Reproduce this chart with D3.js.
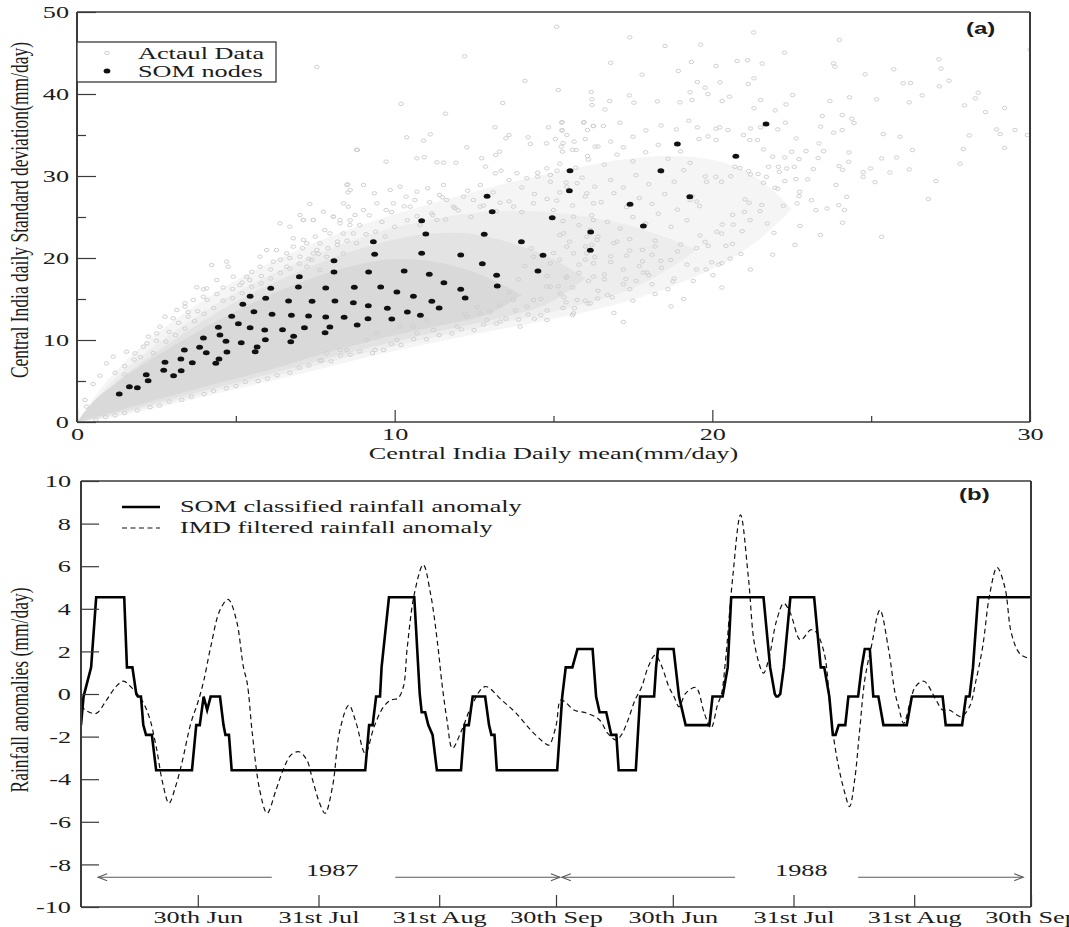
<!DOCTYPE html>
<html>
<head>
<meta charset="utf-8">
<script src="https://cdn.jsdelivr.net/npm/d3@7"></script>
<style>
  body { margin: 0; background: #fff; }
  svg { display: block; }
</style>
</head>
<body>
<svg id="fig" width="1069" height="927"></svg>
<script>
// ---------- Panel (a): daily mean vs. daily standard deviation ----------
// SOM node positions [mean, std] (mm/day)
const somNodes = [
  [1.33,3.41],[1.65,4.31],[1.90,4.19],[2.18,5.77],[2.24,5.04],[2.77,7.28],[2.73,6.30],[3.04,5.65],
  [3.27,7.68],[3.28,6.26],[3.38,8.78],[3.63,7.23],[3.86,9.11],[3.98,10.24],[4.07,8.45],[4.37,7.16],
  [4.47,7.68],[4.45,11.55],[4.50,10.61],[4.69,9.84],[4.72,8.54],[4.87,12.89],[5.08,11.99],[5.17,9.67],
  [5.22,14.35],[5.45,15.33],[5.57,13.45],[5.45,11.50],[5.61,8.57],[5.67,9.15],[5.94,15.08],[5.91,11.22],
  [5.93,10.04],[6.10,16.30],[6.14,13.13],[6.47,11.26],[6.66,14.76],[6.75,13.01],[6.73,9.79],[6.82,10.45],
  [7.00,17.72],[6.97,16.46],[7.16,11.50],[7.29,12.93],[7.40,14.72],[7.83,16.34],[7.83,12.80],[7.81,10.89],
  [7.96,11.59],[8.09,19.67],[8.09,18.29],[8.12,14.76],[8.41,12.77],[8.70,14.55],[8.73,16.43],[8.82,11.83],
  [9.33,21.99],[9.37,20.45],[9.18,18.29],[9.56,16.46],[9.16,12.60],[9.17,14.18],[9.77,13.87],[9.91,12.56],
  [10.07,15.85],[10.30,18.41],[10.40,13.41],[10.59,15.33],[10.81,13.01],[10.85,24.55],[10.98,22.93],[10.85,20.57],
  [11.09,18.01],[11.17,14.72],[11.40,13.90],[11.55,16.99],[12.08,20.37],[12.08,16.18],[12.22,15.12],[12.91,27.52],
  [13.07,25.65],[12.82,22.89],[12.76,19.31],[13.21,17.89],[13.23,16.59],[13.99,21.99],[14.51,18.41],[14.67,20.33],
  [14.96,24.91],[15.52,30.65],[15.50,28.21],[16.17,23.17],[16.16,20.94],
  [21.69,36.34],[18.90,33.90],[20.74,32.40],[18.38,30.65],[19.29,27.48],[17.41,26.55],[17.83,23.90]
];

// Density envelopes of the observed days (std bounds per mean value), outermost first
const band1Mean = [0, 1, 2, 3, 4, 5, 6, 7, 8, 9, 10, 12, 14, 16, 18, 20, 21.5, 22.5];
const band1Low  = [0, 0.4, 1.3, 2.2, 3.1, 4.0, 4.9, 5.8, 6.8, 7.8, 8.7, 10.3, 11.8, 13.3, 15.4, 18.4, 22.0, 26.0];
const band1High = [0, 5.6, 9.2, 12.3, 15.0, 17.3, 19.3, 21.1, 22.7, 24.1, 25.4, 27.6, 29.6, 31.3, 32.6, 32.4, 30.0, 26.0];

const band2Mean = [0, 1, 2, 3, 4, 5, 6, 7, 8, 9, 10, 12, 14, 16, 18, 19.5];
const band2Low  = [0, 0.6, 1.6, 2.5, 3.5, 4.4, 5.4, 6.3, 7.4, 8.4, 9.3, 11.0, 12.6, 14.3, 16.8, 21.0];
const band2High = [0, 4.8, 8.0, 10.9, 13.5, 15.8, 17.8, 19.6, 21.2, 22.6, 23.8, 25.4, 26.0, 25.2, 23.5, 21.0];

const band3Mean = [0, 1, 2, 3, 4, 5, 6, 7, 8, 9, 10, 11, 12, 13, 14, 15, 16];
const band3Low  = [0, 0.8, 1.8, 2.8, 3.8, 4.8, 5.8, 6.8, 7.9, 8.9, 9.8, 10.7, 11.6, 12.4, 13.3, 14.5, 17.5];
const band3High = [0, 4.2, 7.2, 9.9, 12.4, 14.7, 16.7, 18.4, 20.0, 21.3, 22.3, 23.0, 23.2, 22.6, 21.5, 20.0, 17.5];

const band4Mean = [0, 0.5, 1, 2, 3, 4, 5, 6, 7, 8, 9, 10, 11, 12, 13, 14];
const band4Low  = [0, 0.5, 1.0, 2.2, 3.2, 4.3, 5.3, 6.3, 7.4, 8.7, 9.6, 10.6, 11.4, 12.2, 13.0, 15.5];
const band4High = [0, 2.6, 4.1, 6.9, 9.2, 11.5, 13.6, 15.4, 17.0, 18.4, 19.4, 20.0, 19.8, 19.0, 17.6, 15.5];

// Individual observed days [mean, std]
const obsDays = [
  [7.33,26.58],[8.54,26.26],[8.75,25.24],[7.02,25.24],[7.12,24.63],[6.39,24.22],[6.70,23.82],[7.44,24.63],
  [8.07,25.04],[8.28,24.22],[8.59,24.02],[7.96,23.00],[8.38,23.00],[8.70,23.00],[6.81,22.40],[7.23,21.79],
  [7.65,21.79],[6.28,20.97],[6.60,20.57],[7.02,20.16],[7.44,20.57],[7.86,20.16],[8.38,20.57],[5.97,20.97],
  [5.76,18.94],[6.18,19.55],[6.60,18.94],[7.23,18.94],[7.65,18.53],[4.71,19.55],[4.76,18.94],[4.24,19.14],
  [5.34,17.72],[5.44,17.31],[5.13,16.70],[3.77,16.42],[3.98,16.18],[4.08,16.30],[3.40,14.47],[3.40,14.06],
  [3.66,14.88],[3.98,15.28],[2.77,12.84],[3.03,12.64],[3.50,12.84],[2.61,11.62],[2.51,10.81],[2.25,10.40],
  [1.83,8.37],[1.56,8.57],[1.14,7.96],[0.93,7.15],[0.72,5.65],[0.51,4.63],[0.25,2.68],[0.30,1.87],
  [2.09,9.18],[3.14,13.65],[4.40,17.31],[4.92,17.72],[5.76,20.16],[6.81,21.38],
  [13.16,35.94],[14.84,35.94],[15.26,36.50],[15.95,36.50],[16.26,36.10],[10.38,34.72],[11.12,35.08],[10.91,34.31],
  [8.83,33.17],[9.73,31.75],[10.70,32.16],[10.93,32.28],[11.33,31.67],[11.54,31.63],[11.93,31.63],[12.27,33.50],
  [12.74,32.16],[13.18,32.56],[13.30,32.97],[13.50,34.59],[13.60,35.00],[14.20,34.72],[14.27,33.90],[14.78,33.98],
  [15.06,34.51],[15.27,35.53],[15.42,35.00],[15.24,33.58],[15.28,32.97],[15.65,34.19],[15.71,33.17],[16.07,32.44],
  [16.31,33.58],[16.07,35.61],[12.86,31.14],[13.17,30.33],[13.35,30.65],[13.85,30.33],[14.16,29.72],[14.50,29.92],
  [14.79,30.94],[14.90,30.12],[15.11,30.65],[15.42,28.70],[15.74,29.11],[16.05,27.89],[16.26,26.67],[8.60,28.29],
  [8.52,28.98],[9.02,28.90],[9.36,27.89],[9.86,28.29],[10.17,28.70],[10.36,27.48],[10.64,27.07],[11.04,28.50],
  [11.41,27.68],[11.64,27.07],[12.17,27.48],[11.54,28.90],[8.39,26.67],[8.07,25.04],[8.28,24.63],[7.76,25.65],
  [7.44,24.63],[7.13,24.63],[7.13,22.20],[7.55,20.98],[7.39,19.76],[9.44,26.67],[9.02,25.85],[9.73,25.85],
  [9.96,26.67],[10.49,26.26],[10.70,28.09],[11.17,25.45],[11.33,24.63],[11.85,26.26],[12.48,27.07],[12.69,26.26],
  [13.32,26.75],[13.74,26.26],[14.37,26.67],[15.00,25.85],[15.63,25.04],[16.26,24.63],[16.16,23.42],[16.05,22.60],
  [16.37,22.20],[15.32,23.01],[15.42,21.38],[15.63,20.57],[16.05,20.57],[16.26,19.35],[16.26,17.73],[15.42,17.73],
  [14.90,19.35],[14.37,20.16],[14.90,16.50],[15.21,15.69],[15.74,14.88],[16.16,14.47],[15.63,13.25],[14.79,12.44],
  [14.16,14.07],[13.74,14.88],[13.32,12.24],[12.90,12.44],[13.95,11.63],[14.37,14.88],[14.79,16.50],[12.69,13.25],
  [12.27,12.85],[11.96,11.63],[11.22,11.22],[11.01,12.44],[10.70,10.81],[10.17,11.63],[9.44,10.81],[9.12,10.00],
  [8.28,8.78],[7.65,7.48],[7.86,8.37],[8.49,8.78],[10.07,10.00],[9.65,8.78],[9.38,8.78],[10.59,11.63],
  [18.51,45.86],[19.63,46.02],[22.27,45.04],[19.34,43.90],[20.12,43.42],[20.78,44.03],[21.11,44.11],[21.57,43.70],
  [17.79,42.36],[18.93,42.81],[24.81,42.40],[25.71,43.01],[27.13,44.23],[27.20,43.09],[23.81,43.74],[23.86,43.33],
  [26.01,41.30],[26.24,41.34],[27.45,41.62],[27.15,40.93],[28.37,40.16],[28.28,39.47],[26.61,39.83],[27.94,38.61],
  [26.20,38.98],[25.17,39.35],[24.32,39.59],[23.70,39.14],[22.53,39.87],[22.32,38.73],[21.98,38.00],[21.52,39.26],
  [21.31,38.25],[20.31,39.14],[20.54,39.67],[19.86,39.99],[19.77,40.77],[19.53,41.46],[19.30,40.20],[19.36,39.26],
  [20.24,41.42],[21.13,41.22],[21.31,41.91],[18.98,38.98],[18.27,39.10],[17.53,38.94],[17.39,39.83],[16.77,39.14],
  [16.19,40.24],[16.21,39.35],[16.21,38.65],[15.15,40.49],[16.62,38.12],[17.09,36.50],[15.96,36.58],[15.27,36.58],
  [15.27,35.60],[16.25,36.09],[16.57,36.09],[17.50,34.79],[17.91,35.56],[18.39,36.17],[18.87,35.68],[19.26,36.74],
  [19.53,35.93],[20.11,35.76],[20.49,35.60],[20.98,34.99],[20.12,34.38],[19.58,34.50],[19.86,34.83],[20.23,35.93],
  [21.20,35.80],[21.52,35.93],[22.06,35.68],[22.30,36.50],[22.64,34.58],[23.46,37.31],[24.09,37.43],[24.39,36.98],
  [24.46,36.46],[23.41,36.01],[23.82,35.28],[24.09,35.60],[25.38,35.11],[25.91,34.79],[25.33,32.14],[25.80,32.26],
  [26.30,33.16],[28.09,34.95],[28.95,35.68],[29.06,35.11],[29.53,35.60],[29.92,34.99],[29.20,33.44],[27.90,33.28],
  [27.04,29.37],[25.12,29.25],[24.75,30.47],[24.75,29.90],[24.98,30.92],[25.59,30.43],[24.30,32.87],[24.29,31.73],
  [23.99,31.21],[24.10,30.76],[23.89,28.89],[24.23,27.46],[23.98,26.44],[24.16,25.87],[23.61,26.04],[23.26,25.83],
  [23.12,27.05],[22.75,28.07],[22.73,27.54],[22.67,26.65],[22.06,28.44],[22.28,29.37],[23.00,29.58],[22.63,29.62],
  [22.58,31.12],[22.34,30.92],[22.11,30.51],[22.08,31.12],[21.90,32.35],[22.28,32.26],[22.73,32.06],[22.95,33.03],
  [23.18,30.84],[23.50,33.03],[23.36,33.97],[23.33,32.18],[22.50,32.95],[21.61,33.24],[21.42,34.38],[21.18,34.38],
  [21.77,31.12],[21.14,30.59],[20.87,30.96],[20.71,31.12],[20.58,29.98],[20.29,29.29],[20.11,29.90],[19.82,29.29],
  [19.78,29.94],[21.20,30.19],[21.44,30.23],[21.70,29.90],[21.61,29.17],[21.97,28.56],[21.16,26.73],[21.03,27.14],
  [21.01,25.63],[21.19,24.61],[21.50,25.71],[21.56,26.48],[21.73,24.20],[21.94,23.07],[22.24,26.36],[22.76,23.92],
  [20.94,23.27],[20.64,25.26],[20.66,24.08],[20.31,24.08],[20.29,22.98],[20.43,21.48],[20.63,21.72],[19.77,21.97],
  [19.87,21.48],[20.14,23.19],[19.98,19.48],[20.30,19.36],[20.56,19.93],[20.02,17.90],[19.61,22.74],[19.60,26.32],
  [19.51,26.89],[19.30,27.09],[19.37,27.54],[19.00,21.64],[18.76,17.16],[18.69,19.77],[18.38,19.65],[17.94,18.22],
  [17.83,18.22],[17.28,17.45],[16.85,15.21],[16.39,15.05],[16.08,14.44],[15.66,13.87],[15.60,13.05],[15.33,15.21],
  [15.15,16.55],[25.33,22.58],
  [15.3,34.0],[15.6,33.2],[16.0,34.5],[16.4,33.6],[16.8,34.2],[17.2,33.5],[15.2,31.5],[15.7,31.0],
  [16.1,32.0],[16.6,31.4],[17.0,32.6],[17.5,31.8],[17.9,32.9],[18.3,33.8],[18.6,32.1],[19.0,33.0],
  [19.3,31.6],[15.4,29.2],[15.9,29.8],[16.3,28.7],[16.8,29.5],[17.2,28.6],[17.6,30.1],[18.0,29.0],
  [18.4,30.5],[18.8,29.3],[19.1,30.7],[15.1,27.0],[15.6,26.4],[16.0,27.5],[16.5,26.8],[16.9,27.9],
  [17.3,26.2],[17.7,27.3],[18.1,26.6],[18.5,27.8],[18.9,25.9],[15.3,24.5],[15.8,24.0],[16.2,25.2],
  [16.7,24.4],[17.1,23.6],[17.5,25.0],[17.9,24.2],[18.3,25.4],[18.7,23.8],[19.2,24.6],[15.5,22.0],
  [16.0,21.4],[16.4,22.6],[16.9,21.8],[17.4,22.3],[17.8,21.0],[18.2,22.1],[15.2,19.8],[15.8,19.2],
  [16.3,20.1],[16.8,19.5],[17.3,20.3],[17.7,19.0],[18.1,20.4],[15.4,17.6],[16.1,17.2],[16.6,18.0],
  [17.2,16.8],
  [0.9,0.6],[1.5,1.1],[2.3,1.8],[2.9,2.5],[3.6,3.1],[4.3,3.8],[5.0,4.4],[5.7,5.0],
  [6.3,5.7],[7.0,6.6],[7.7,7.5],[8.3,8.1],[8.9,8.6],[9.9,9.5],[10.6,10.1],[11.4,10.6],
  [12.1,11.3],[12.8,11.9],[13.5,12.6],[14.2,13.1],[14.8,13.6],[16.9,13.3],[17.5,14.8],[18.2,15.6],
  [17.2,12.2],[18.7,14.1],[19.4,17.2],[20.3,16.4],[19.1,15.0],[21.2,18.6],[21.9,20.4],[22.6,21.6],
  [23.4,22.8],[24.1,24.3],[26.8,27.2],[26.2,30.8],[27.8,31.5],[28.6,37.8],[29.2,38.3],[30.0,45.4],
  [15.1,48.2],[12.2,44.6],[7.55,43.3],[8.8,33.2],[8.5,28.9],[8.53,28.0],[10.2,38.8],[11.6,37.6],
  [13.4,38.9],[14.1,41.6],[16.8,43.8],[17.4,46.9],[21.3,47.5],[24.0,46.6],
  [1.2,6.0],[1.5,6.8],[1.8,7.6],[2.2,9.6],[2.5,9.9],[2.9,11.0],[3.2,12.1],[3.5,13.4],
  [3.8,13.5],[4.1,14.9],[4.4,15.6],[4.6,16.4],[4.9,16.2],[5.2,17.0],[5.5,18.3],[5.8,17.8],
  [6.1,18.6],[6.4,19.8],[6.7,20.0],[7.1,21.2],[7.5,22.6],[7.8,23.4],[8.2,22.0],[8.6,24.6],
  [8.9,24.0],[9.2,25.2],[9.6,24.4],[9.9,25.6],[10.3,26.3],[10.7,25.1],[11.1,26.8],[11.5,27.4],
  [11.9,26.1],[12.3,28.2],[12.7,28.9],[13.1,28.0],[13.6,29.5],[14.0,28.6],[14.5,30.4],[14.9,29.3],
  [0.6,0.3],[1.2,0.8],[1.9,1.4],[2.6,2.0],[3.3,2.7],[4.0,3.4],[4.7,4.1],[5.3,4.9],
  [6.0,5.3],[6.7,6.0],[7.3,6.9],[8.0,7.4],[8.6,8.2],[9.3,8.4],[10.2,9.4],[11.0,10.1],
  [11.8,10.8],[12.5,11.2],[13.2,12.0],[13.9,12.5],[14.6,13.0],[15.3,13.9],[16.0,14.8],[16.7,15.5],
  [17.4,16.2],[18.1,16.8],[18.8,17.5],[19.5,18.6],[20.2,19.2],[20.9,20.5],
  [1.5,5.8],[2.0,7.9],[2.4,8.4],[2.8,9.8],[3.1,10.6],[3.4,11.4],[3.7,12.3],[4.0,13.2],
  [4.3,13.9],[4.6,14.8],[4.9,15.1],[5.2,15.7],[5.5,16.5],[5.8,16.9],[6.1,17.5],[6.4,18.2],
  [6.7,18.7],[7.0,19.3],[7.3,19.9],[7.6,20.5],[7.9,21.2],[8.2,21.6],[8.5,22.1],[8.8,21.8],
  [9.1,22.9],[9.4,23.2],[9.7,22.6],[10.0,23.8],[10.4,24.6],[10.8,24.0],[11.2,25.2],[11.6,24.7],
  [12.0,25.8],[12.4,25.0],[12.8,26.4],[13.2,25.7],[13.6,26.9],[14.0,25.6],[14.4,27.8],[14.8,27.2],
  [15.2,28.0],
  [13.3,14.2],[13.6,15.8],[13.9,17.4],[14.1,19.0],[14.3,21.2],[14.6,15.0],[14.8,17.8],[15.0,20.6],
  [15.2,22.8],[15.4,14.6],[15.6,16.4],[15.8,18.2],[16.0,19.8],[16.2,21.6],[16.4,16.0],[16.6,17.4],
  [16.8,20.2],[17.0,22.0],[17.2,18.6],[17.4,20.9],[17.6,17.2],[17.8,19.6],[18.0,17.9],[18.2,21.4],
  [18.4,18.8],[18.6,16.2],[18.9,20.8],[19.2,19.2],[19.5,21.2],[19.8,18.6],[13.0,13.4],[13.8,13.6],
  [14.4,12.6],[12.6,14.0],[12.2,13.2]
];

const xTicksA = [0, 10, 20, 30];
const xMinorA = [5, 15, 25];
const yTicksA = [0, 10, 20, 30, 40, 50];
const yMinorA = [5, 15, 25, 35, 45];

// ---------- Panel (b): rainfall anomaly series, JJAS 1987 + 1988 ----------
// day index 0..244 (1 Jun 1987 .. 30 Sep 1988, monsoon seasons back to back)
const somTrack = [
  [0,-1.46],[0.65,-0.12],[2.6,1.25],[3.9,4.54],[11.1,4.54],[11.8,1.25],[13.2,1.25],[14.2,0.0],
  [14.6,-0.12],[15.4,-0.12],[16.0,-1.46],[16.7,-1.92],[18.2,-1.92],[19.3,-3.58],[28.5,-3.58],[29.6,-1.46],
  [30.5,-1.46],[31.5,-0.12],[32.4,-0.75],[33.3,-0.12],[35.7,-0.12],[36.6,-1.46],[37.1,-1.92],[38.0,-1.92],
  [38.7,-3.58],[73.0,-3.58],[74.0,-1.46],[74.9,-1.46],[75.8,-0.12],[76.8,-0.12],[77.2,1.25],[79.1,4.54],
  [85.6,4.54],[87.0,0.0],[87.5,-0.86],[88.4,-0.86],[89.2,-1.46],[90.3,-1.92],[91.4,-3.58],[97.6,-3.58],
  [98.5,-1.46],[99.6,-1.46],[100.6,-0.12],[103.8,-0.12],[104.8,-1.46],[105.4,-1.92],[106.2,-1.92],[106.8,-3.58],
  [122.3,-3.58],[123.6,-0.12],[124.5,1.25],[126.2,1.25],[127.5,2.11],[131.4,2.11],[132.3,-0.12],[133.2,-0.86],
  [134.9,-0.86],[136.2,-1.92],[137.5,-1.92],[138.1,-3.58],[142.5,-3.58],[143.6,-0.12],[147.2,-0.12],[147.7,1.25],
  [148.2,2.11],[152.2,2.11],[153.6,-0.12],[155.3,-1.46],[161.4,-1.46],[162.2,-0.12],[164.8,-0.12],[166.1,1.25],
  [167.0,4.54],[175.3,4.54],[177.0,1.25],[178.2,0.0],[178.6,-0.12],[179.0,-0.12],[179.6,0.0],[180.5,1.25],
  [182.2,4.54],[188.3,4.54],[190.0,1.25],[190.9,1.25],[192.2,-0.12],[193.1,-1.92],[193.8,-1.92],[194.6,-1.46],
  [196.3,-1.46],[197.1,-0.12],[199.6,-0.12],[200.5,1.25],[201.3,2.11],[202.6,2.11],[203.5,-0.12],[204.8,-0.12],
  [206.1,-1.46],[212.1,-1.46],[213.4,-0.12],[221.3,-0.12],[222.1,-1.46],[226.3,-1.46],[227.3,-0.12],[228.2,-0.12],
  [229.1,1.25],[230.4,4.54],[244,4.54]
];

const imdTrack = [
  [0,-0.55],[1.5,-0.8],[3.9,-0.91],[6.5,-0.3],[9,0.35],[10.9,0.6],[13,0.3],[15.6,-0.28],
  [17.5,-1.06],[19.3,-2.47],[21,-4.2],[22.6,-5.13],[24.2,-4.4],[25.9,-3.25],[28.2,-1.38],[30,-0.4],
  [31.5,0.6],[33.3,2.2],[35.7,3.94],[37.8,4.44],[39.9,3.48],[41.7,1.28],[42.7,0.5],[44,-1.85],
  [45.9,-4.51],[47.8,-5.6],[50.1,-4.5],[51.9,-3.57],[53.9,-2.87],[56,-2.71],[58,-3.1],[59.5,-4.04],
  [61.3,-5.13],[62.7,-5.6],[64.6,-4.35],[66.5,-1.69],[68.8,-0.52],[70.7,-1.38],[73,-2.79],[75.3,-1.53],
  [77.7,-0.6],[79.6,-0.28],[81.4,-0.2],[82.8,0.34],[83.8,2.19],[85.6,4.69],[87.9,6.07],[89.8,4.69],
  [91.7,2.19],[92.6,0.66],[94,-1.22],[95.4,-2.55],[97.8,-1.69],[100.6,-0.44],[103.8,0.35],[108,-0.28],
  [111.8,-0.91],[115.5,-1.69],[119.2,-2.32],[120.2,-2.4],[122,-1.5],[123.2,-0.28],[124.5,-0.4],[126.6,-0.75],
  [130.1,-0.91],[133.2,-1.22],[135.3,-1.85],[137.5,-2.16],[138.8,-1.92],[140.5,-1.22],[142.3,-0.28],[144,0.33],
  [145.7,1.28],[147.5,1.83],[149.2,1.28],[151,0.33],[152.3,-0.12],[153.6,-0.6],[155.3,0.03],[157.9,0.3],
  [160.1,-0.91],[161.8,-1.6],[163.5,-0.5],[164.5,0.0],[165.5,1.5],[167.4,5.5],[169.4,8.41],[171.4,5.5],
  [173.1,2.23],[175.3,0.98],[176.6,1.61],[178.7,3.48],[180.5,4.26],[182.2,3.79],[184.8,2.54],[187.4,3.01],
  [188.7,2.93],[190.9,1.91],[192.7,-1.22],[194.4,-3.25],[196.2,-4.66],[197.4,-5.29],[198.7,-4.04],[200,-1.69],
  [201.3,0.66],[203,2.23],[205.2,3.94],[207.3,2.23],[209.1,0.03],[210,-0.6],[211.3,-1.38],[213.1,-0.28],
  [214.3,0.34],[216.5,0.6],[219.6,-0.28],[221.3,-0.75],[223,-0.75],[226,-1.06],[228.2,-0.6],[229.9,0.66],
  [231.6,2.23],[233.4,4.69],[235.3,5.94],[237.3,5.0],[239,2.82],[241.2,1.88],[244,1.64]
];

const monthTickDays = [30, 61, 92, 122, 152, 183, 214, 244];
const monthTickLabels = ["30th Jun","31st Jul","31st Aug","30th Sep","30th Jun","31st Jul","31st Aug","30th Sep"];
const yTicksB = [-10,-8,-6,-4,-2,0,2,4,6,8,10];

const seasons = ["1987", "1988"];

// ---------- drawing ----------
const SX = 1.5;   // horizontal text stretch used throughout the figure
const SERIF = "'Liberation Serif','Times New Roman',serif";
const SANS = "'Liberation Sans',Arial,sans-serif";
const INK = "#1c1c1c";
const FRAME = "#3a3a3a";

const svg = d3.select("#fig");

function stretchedText(parent, x, y, str, anchor, size, extra) {
  return parent.append("text")
    .attr("transform", `translate(${x},${y}) scale(${SX},1)` + (extra || ""))
    .attr("text-anchor", anchor || "start")
    .attr("font-family", SERIF)
    .attr("font-size", size || 17.5)
    .attr("fill", INK)
    .text(str);
}

function stretchTickLabels(sel) {
  sel.selectAll(".tick text").each(function () {
    const t = d3.select(this);
    const x = +t.attr("x") || 0, y = +t.attr("y") || 0;
    t.attr("x", null).attr("y", null)
     .attr("transform", `translate(${x},${y}) scale(${SX},1)`)
     .attr("font-family", SERIF).attr("font-size", 17.5).attr("fill", INK);
  });
  sel.selectAll(".tick line").attr("stroke", FRAME).attr("stroke-width", 1.2);
  sel.select(".domain").remove();
}

function frame(l, r, t, b) {
  const g = svg.append("g").attr("stroke", FRAME).attr("fill", "none");
  g.append("line").attr("x1", l).attr("x2", r).attr("y1", t).attr("y2", t).attr("stroke-width", 1.3);
  g.append("line").attr("x1", l).attr("x2", r).attr("y1", b).attr("y2", b).attr("stroke-width", 1.6);
  g.append("line").attr("x1", l).attr("x2", l).attr("y1", t).attr("y2", b).attr("stroke-width", 2);
  g.append("line").attr("x1", r).attr("x2", r).attr("y1", t).attr("y2", b).attr("stroke-width", 2);
}

// ===== Panel (a) =====
const A = { l: 77, r: 1030, t: 12, b: 422 };
const xA = d3.scaleLinear().domain([0, 30]).range([A.l, A.r]);
const yA = d3.scaleLinear().domain([0, 50]).range([A.b, A.t]);

svg.append("clipPath").attr("id", "clipA")
  .append("rect").attr("x", A.l).attr("y", A.t).attr("width", A.r - A.l).attr("height", A.b - A.t);

const gA = svg.append("g").attr("clip-path", "url(#clipA)");

// density envelopes of overlapping observations, lightest (widest) first
const envelope = d3.area().x(d => xA(d.m)).y0(d => yA(d.lo)).y1(d => yA(d.hi)).curve(d3.curveBasis);
[
  { m: band1Mean, lo: band1Low, hi: band1High, fill: "#f5f5f5" },
  { m: band2Mean, lo: band2Low, hi: band2High, fill: "#ededed" },
  { m: band3Mean, lo: band3Low, hi: band3High, fill: "#e3e3e3" },
  { m: band4Mean, lo: band4Low, hi: band4High, fill: "#d9d9d9" }
].forEach(band => {
  gA.append("path")
    .datum(band.m.map((m, i) => ({ m, lo: band.lo[i], hi: band.hi[i] })))
    .attr("d", envelope)
    .attr("fill", band.fill);
});

// individual observed days
gA.append("g").selectAll("ellipse").data(obsDays).join("ellipse")
  .attr("cx", d => xA(d[0])).attr("cy", d => yA(d[1]))
  .attr("rx", 2.3).attr("ry", 1.7)
  .attr("fill", "none").attr("stroke", "#d0d0d0").attr("stroke-width", 1);

// SOM nodes
gA.append("g").selectAll("ellipse").data(somNodes).join("ellipse")
  .attr("cx", d => xA(d[0])).attr("cy", d => yA(d[1]))
  .attr("rx", 3.4).attr("ry", 2.5)
  .attr("fill", "#111");

// axes with inward ticks
const axYA = svg.append("g").attr("transform", `translate(${A.l},0)`)
  .call(d3.axisLeft(yA).tickValues(yTicksA).tickSizeInner(-19).tickSizeOuter(0).tickPadding(8).tickFormat(d => String(d)));
stretchTickLabels(axYA);
const axYAm = svg.append("g").attr("transform", `translate(${A.l},0)`)
  .call(d3.axisLeft(yA).tickValues(yMinorA).tickSizeInner(-9).tickSizeOuter(0).tickFormat(""));
stretchTickLabels(axYAm);

const axXA = svg.append("g").attr("transform", `translate(0,${A.b})`)
  .call(d3.axisBottom(xA).tickValues(xTicksA).tickSizeInner(-12).tickSizeOuter(0).tickPadding(6).tickFormat(d => String(d)));
stretchTickLabels(axXA);
const axXAm = svg.append("g").attr("transform", `translate(0,${A.b})`)
  .call(d3.axisBottom(xA).tickValues(xMinorA).tickSizeInner(-6).tickSizeOuter(0).tickFormat(""));
stretchTickLabels(axXAm);

frame(A.l, A.r, A.t, A.b);

// axis titles
stretchedText(svg, (A.l + A.r) / 2, 459, "Central India Daily mean(mm/day)", "middle");
stretchedText(svg, 28, 210, "Central India daily Standard deviation(mm/day)", "middle", 17.5, " rotate(-90)");

// legend
const legA = svg.append("g");
legA.append("rect").attr("x", A.l).attr("y", 42).attr("width", 276 - A.l).attr("height", 40)
  .attr("fill", "#fff").attr("stroke", FRAME).attr("stroke-width", 1.3);
legA.append("ellipse").attr("cx", 107).attr("cy", 53).attr("rx", 2.3).attr("ry", 1.7)
  .attr("fill", "none").attr("stroke", "#cfcfcf").attr("stroke-width", 1);
stretchedText(legA, 138, 59, "Actaul Data");
legA.append("ellipse").attr("cx", 107).attr("cy", 71).attr("rx", 3.4).attr("ry", 2.5).attr("fill", "#111");
stretchedText(legA, 138, 77, "SOM nodes");

svg.append("text").attr("transform", `translate(966,34) scale(${SX},1)`)
  .attr("font-family", SANS).attr("font-weight", "bold").attr("font-size", 16).attr("fill", INK)
  .text("(a)");

// ===== Panel (b) =====
const B = { l: 81, r: 1031, t: 481, b: 907 };
const xB = d3.scaleLinear().domain([0, 244]).range([B.l, B.r]);
const yB = d3.scaleLinear().domain([-10, 10]).range([B.b, B.t]);

svg.append("clipPath").attr("id", "clipB")
  .append("rect").attr("x", B.l).attr("y", B.t).attr("width", B.r - B.l).attr("height", B.b - B.t);
const gB = svg.append("g").attr("clip-path", "url(#clipB)");

gB.append("path").datum(imdTrack)
  .attr("d", d3.line().x(d => xB(d[0])).y(d => yB(d[1])).curve(d3.curveCatmullRom.alpha(0.5)))
  .attr("fill", "none").attr("stroke", "#111").attr("stroke-width", 1.2).attr("stroke-dasharray", "5,3.5");

gB.append("path").datum(somTrack)
  .attr("d", d3.line().x(d => xB(d[0])).y(d => yB(d[1])))
  .attr("fill", "none").attr("stroke", "#000").attr("stroke-width", 2.6).attr("stroke-linejoin", "miter");

const axYB = svg.append("g").attr("transform", `translate(${B.l},0)`)
  .call(d3.axisLeft(yB).tickValues(yTicksB).tickSizeInner(-18).tickSizeOuter(0).tickPadding(10).tickFormat(d => String(d)));
stretchTickLabels(axYB);

const axXB = svg.append("g").attr("transform", `translate(0,${B.b})`)
  .call(d3.axisBottom(xB).tickValues(monthTickDays).tickSizeInner(-12).tickSizeOuter(0).tickPadding(3.5)
    .tickFormat((d, i) => monthTickLabels[i]));
stretchTickLabels(axXB);

frame(B.l, B.r, B.t, B.b);

stretchedText(svg, 28, 690, "Rainfall anomalies (mm/day)", "middle", 17.5, " rotate(-90)");

// season arrows
const arrowY = yB(-8.6);
const seasonSpans = [
  { label: seasons[0], from: 4.4, toL: 49, fromR: 80.7, to: 123, mid: 64.5 },
  { label: seasons[1], from: 123.5, toL: 168, fromR: 199.6, to: 242, mid: 185 }
];
const gArr = svg.append("g").attr("stroke", "#5a5a5a").attr("stroke-width", 1.1).attr("fill", "none");
seasonSpans.forEach(s => {
  const a = xB(s.from), b = xB(s.toL), c = xB(s.fromR), d = xB(s.to);
  gArr.append("line").attr("x1", a).attr("x2", b).attr("y1", arrowY).attr("y2", arrowY);
  gArr.append("line").attr("x1", c).attr("x2", d).attr("y1", arrowY).attr("y2", arrowY);
  gArr.append("path").attr("d", `M${a + 9},${arrowY - 3.5}L${a},${arrowY}L${a + 9},${arrowY + 3.5}`);
  gArr.append("path").attr("d", `M${d - 9},${arrowY - 3.5}L${d},${arrowY}L${d - 9},${arrowY + 3.5}`);
  stretchedText(svg, xB(s.mid), arrowY - 1, s.label, "middle");
});

// legend
const legB = svg.append("g");
legB.append("line").attr("x1", 122).attr("x2", 160).attr("y1", 507).attr("y2", 507)
  .attr("stroke", "#000").attr("stroke-width", 2.6);
stretchedText(legB, 180, 512, "SOM classified rainfall anomaly");
legB.append("line").attr("x1", 122).attr("x2", 160).attr("y1", 528).attr("y2", 528)
  .attr("stroke", "#111").attr("stroke-width", 1.2).attr("stroke-dasharray", "5,3.5");
stretchedText(legB, 180, 533, "IMD filtered rainfall anomaly");

svg.append("text").attr("transform", `translate(959,500) scale(${SX},1)`)
  .attr("font-family", SANS).attr("font-weight", "bold").attr("font-size", 16).attr("fill", INK)
  .text("(b)");
</script>
</body>
</html>
